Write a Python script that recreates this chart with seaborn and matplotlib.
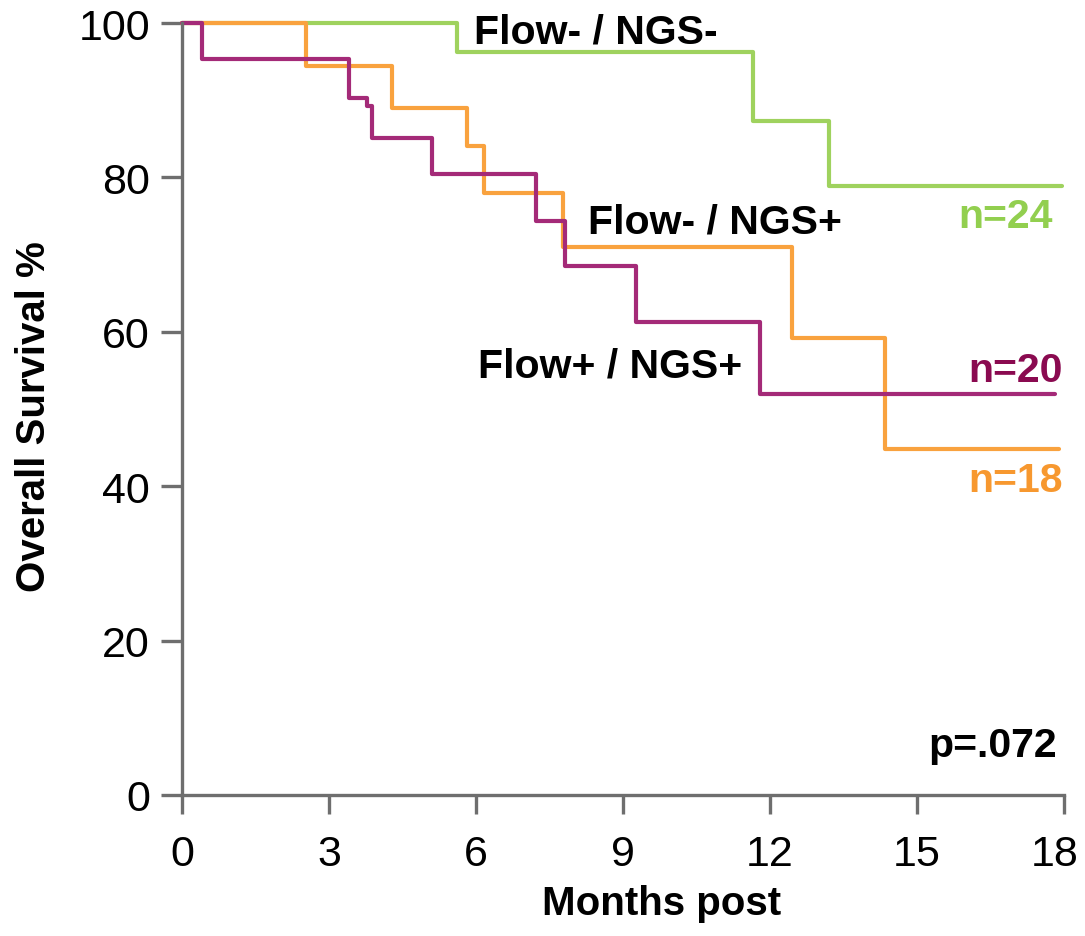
import matplotlib
matplotlib.use("Agg")
import matplotlib.pyplot as plt
import matplotlib.transforms as mtransforms
import seaborn as sns
import pandas as pd

# ---- data ----
groups = ["Flow- / NGS-", "Flow- / NGS+", "Flow+ / NGS+"]
n_labels = ["n=24", "n=18", "n=20"]

time_neg_neg = [0, 5.62, 11.66, 13.20, 17.96]
surv_neg_neg = [100, 96.2, 87.3, 78.9, 78.9]

time_neg_pos = [0, 2.53, 4.29, 5.82, 6.16, 7.78, 12.45, 14.35, 17.90]
surv_neg_pos = [100, 94.4, 89.0, 84.1, 78.0, 71.0, 59.2, 44.8, 44.8]

time_pos_pos = [0, 0.41, 3.41, 3.78, 3.88, 5.10, 7.22, 7.82, 9.27, 11.80, 17.82]
surv_pos_pos = [100, 95.3, 90.3, 89.2, 85.1, 80.4, 74.4, 68.5, 61.3, 51.9, 51.9]

x_ticks = [0, 3, 6, 9, 12, 15, 18]
y_ticks = [0, 20, 40, 60, 80, 100]
p_text = "p=.072"

line_colors = ["#9fd25e", "#f9a23e", "#a42a78"]
label_colors = ["#92cf4f", "#f7982f", "#8a0a50"]

frames = []
for g, t, s in zip(groups, [time_neg_neg, time_neg_pos, time_pos_pos],
                   [surv_neg_neg, surv_neg_pos, surv_pos_pos]):
    frames.append(pd.DataFrame({"Months": t, "Survival": s, "Group": g}))
df = pd.concat(frames, ignore_index=True)

sns.set_style("ticks")
plt.rcParams["font.family"] = ["Liberation Sans", "DejaVu Sans"]
plt.rcParams["text.color"] = "black"
plt.rcParams["axes.labelcolor"] = "black"

fig = plt.figure(figsize=(10.85, 9.37), dpi=100)
ax = fig.add_axes([182 / 1085, 1 - 796 / 937, (1064 - 182) / 1085, (796 - 24) / 937])

sns.lineplot(data=df, x="Months", y="Survival", hue="Group", hue_order=groups,
             palette=line_colors, estimator=None, sort=False,
             drawstyle="steps-post", linewidth=3.0, legend=False, ax=ax,
             clip_on=False)

ax.set_xlim(0, 18)
ax.set_ylim(0, 100)
ax.set_xticks(x_ticks)
ax.set_yticks(y_ticks)
ax.set_xticklabels([str(v) for v in x_ticks])
ax.set_yticklabels([str(v) for v in y_ticks])

for side in ["top", "right"]:
    ax.spines[side].set_visible(False)
for side in ["left", "bottom"]:
    ax.spines[side].set_color("#6e6e6e")
    ax.spines[side].set_linewidth(2.4)
ax.tick_params(axis="both", direction="out", colors="#6e6e6e", width=2.4,
               labelsize=31, labelcolor="black")
ax.tick_params(axis="x", length=14, pad=14)
ax.tick_params(axis="y", length=15, pad=8)

# nudge last x tick label left so it stays inside the figure, as in the reference
last = ax.get_xticklabels()[-1]
last.set_transform(last.get_transform() +
                   mtransforms.ScaledTranslation(-9 / 100, 0, fig.dpi_scale_trans))

ax.set_xlabel("Months post", fontsize=29, fontweight="bold")
ax.set_ylabel("Overall Survival %", fontsize=29, fontweight="bold")
ax.xaxis.set_label_coords(0.544, -0.115)
ax.yaxis.set_label_coords(-0.146, 0.492)

fs = 29.5
ax.text(5.96, 97.5, groups[0], fontsize=fs, fontweight="bold", ha="left", va="baseline")
ax.text(8.29, 72.9, groups[1], fontsize=fs, fontweight="bold", ha="left", va="baseline")
ax.text(6.04, 54.2, groups[2], fontsize=fs, fontweight="bold", ha="left", va="baseline")
ax.text(17.77, 73.6, n_labels[0], fontsize=fs, fontweight="bold", color=label_colors[0],
        ha="right", va="baseline")
ax.text(17.98, 39.4, n_labels[1], fontsize=fs, fontweight="bold", color=label_colors[1],
        ha="right", va="baseline")
ax.text(17.98, 53.6, n_labels[2], fontsize=fs, fontweight="bold", color=label_colors[2],
        ha="right", va="baseline")
ax.text(17.86, 5.05, p_text, fontsize=fs, fontweight="bold", ha="right", va="baseline")

fig.savefig("out.png", dpi=100)
